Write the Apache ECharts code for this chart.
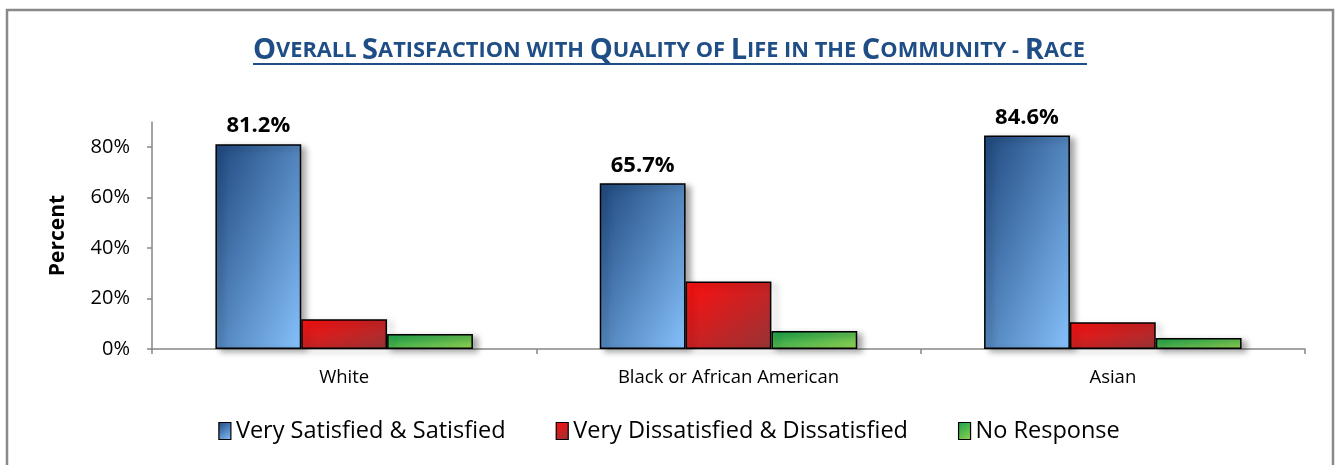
<!DOCTYPE html>
<html>
<head>
<meta charset="utf-8">
<script src="https://cdn.jsdelivr.net/npm/echarts@6/dist/echarts.min.js"></script>
<style>
html,body{margin:0;padding:0;background:#fff;}
#chart{width:1338px;height:465px;}
</style>
</head>
<body>
<div id="chart"></div>
<script>
const categories = ['White', 'Black or African American', 'Asian'];
const seriesNames = ['Very Satisfied & Satisfied', 'Very Dissatisfied & Dissatisfied', 'No Response'];
const satisfied = [81.2, 65.7, 84.6];
const dissatisfied = [11.8, 26.8, 10.6];
const noResponse = [5.9, 7.1, 4.4];
const yTicks = [0, 20, 40, 60, 80];
const titleParts = [['O','VERALL '],['S','ATISFACTION WITH '],['Q','UALITY OF '],['L','IFE IN THE '],['C','OMMUNITY - '],['R','ACE']];

const FONT = 'Open Sans';
const BAR_GAP = 0.33;
const colorStops = [
  ['#1F487E', '#86C1FB'],
  ['#FF0F0F', '#963436'],
  ['#16A04A', '#95D253']
];
const chart = echarts.init(document.getElementById('chart'));

function simpleGrad(i) {
  return new echarts.graphic.LinearGradient(0, 0, 1, 1, [
    {offset: 0, color: colorStops[i][0]}, {offset: 1, color: colorStops[i][1]}
  ]);
}
// Gradient whose isolines run corner to corner (shape-scaled 45deg, as in Office charts)
function shapeGrad(i, w, h) {
  const d = h * h + w * w || 1;
  return new echarts.graphic.LinearGradient(0, 0, 2 * h * h / d, 2 * w * w / d, [
    {offset: 0, color: colorStops[i][0]}, {offset: 1, color: colorStops[i][1]}
  ]);
}

const titleText = titleParts.map(p => '{b|' + p[0] + '}{s|' + p[1] + '}').join('');

function makeSeries(name, data, idx, withLabel) {
  return {
    name: name,
    type: 'bar',
    data: data,
    barGap: '0%',
    barCategoryGap: (BAR_GAP * 100) + '%',
    itemStyle: {
      color: simpleGrad(idx),
      borderColor: '#000',
      borderWidth: 1.5,
      shadowColor: 'rgba(0,0,0,0.35)',
      shadowBlur: 6,
      shadowOffsetX: 5,
      shadowOffsetY: 3
    },
    label: {
      show: withLabel,
      position: 'top',
      distance: 7,
      formatter: p => p.value.toFixed(1) + '%',
      fontFamily: FONT,
      fontWeight: 'bold',
      fontSize: 22,
      color: '#000'
    },
    emphasis: {disabled: true}
  };
}

const allData = [satisfied, dissatisfied, noResponse];

chart.setOption({
  animation: false,
  backgroundColor: '#fff',
  title: {
    text: titleText,
    left: 'center',
    top: 31,
    textStyle: {
      rich: {
        b: {fontFamily: FONT, fontWeight: 'bold', fontSize: 29, color: '#1F4E86'},
        s: {fontFamily: FONT, fontWeight: 'bold', fontSize: 21.8, color: '#1F4E86'}
      }
    }
  },
  graphic: [
    {type: 'rect', shape: {x: 7, y: 10, width: 1326, height: 470},
     style: {fill: 'none', stroke: '#898989', lineWidth: 2.5}, silent: true},
    {type: 'line', shape: {x1: 253, y1: 64, x2: 1087, y2: 64},
     style: {stroke: '#1F4E86', lineWidth: 1.8}, silent: true}
  ],
  legend: {
    bottom: 17,
    left: 'center',
    icon: 'rect',
    itemWidth: 12,
    itemHeight: 17,
    itemGap: 50,
    textStyle: {fontFamily: FONT, fontSize: 23.5, color: '#000'},
    itemStyle: {shadowBlur: 0, shadowOffsetX: 0, shadowOffsetY: 0, borderWidth: 1.2},
    data: seriesNames
  },
  grid: {left: 152, right: 33, top: 122, bottom: 116, containLabel: false},
  xAxis: {
    type: 'category',
    data: categories,
    axisLine: {lineStyle: {color: '#868686', width: 1.5}},
    axisTick: {show: true, length: 5, lineStyle: {color: '#868686', width: 1.5}},
    axisLabel: {fontFamily: FONT, fontSize: 18.5, color: '#000', margin: 19}
  },
  yAxis: {
    type: 'value',
    min: 0,
    max: 90,
    interval: 20,
    name: 'Percent',
    nameLocation: 'middle',
    nameRotate: 90,
    nameGap: 83,
    nameTextStyle: {fontFamily: FONT, fontWeight: 'bold', fontSize: 21, color: '#000'},
    splitLine: {show: false},
    axisLine: {show: true, lineStyle: {color: '#868686', width: 1.5}},
    axisTick: {show: true, length: 5, customValues: yTicks, lineStyle: {color: '#868686', width: 1.5}},
    axisLabel: {customValues: yTicks, formatter: v => v + '%', fontFamily: FONT, fontSize: 20, color: '#000', margin: 22}
  },
  series: [
    makeSeries(seriesNames[0], satisfied, 0, true),
    makeSeries(seriesNames[1], dissatisfied, 1, false),
    makeSeries(seriesNames[2], noResponse, 2, false)
  ]
});

// Per-bar gradients sized to each bar's pixel box
const gridW = 1338 - 152 - 33;
const barW = gridW / categories.length * (1 - BAR_GAP) / 3;
const y0 = chart.convertToPixel({yAxisIndex: 0}, 0);
chart.setOption({
  series: allData.map((arr, i) => ({
    data: arr.map(v => ({
      value: v,
      itemStyle: {color: shapeGrad(i, barW, y0 - chart.convertToPixel({yAxisIndex: 0}, v))}
    }))
  }))
});
</script>
</body>
</html>
